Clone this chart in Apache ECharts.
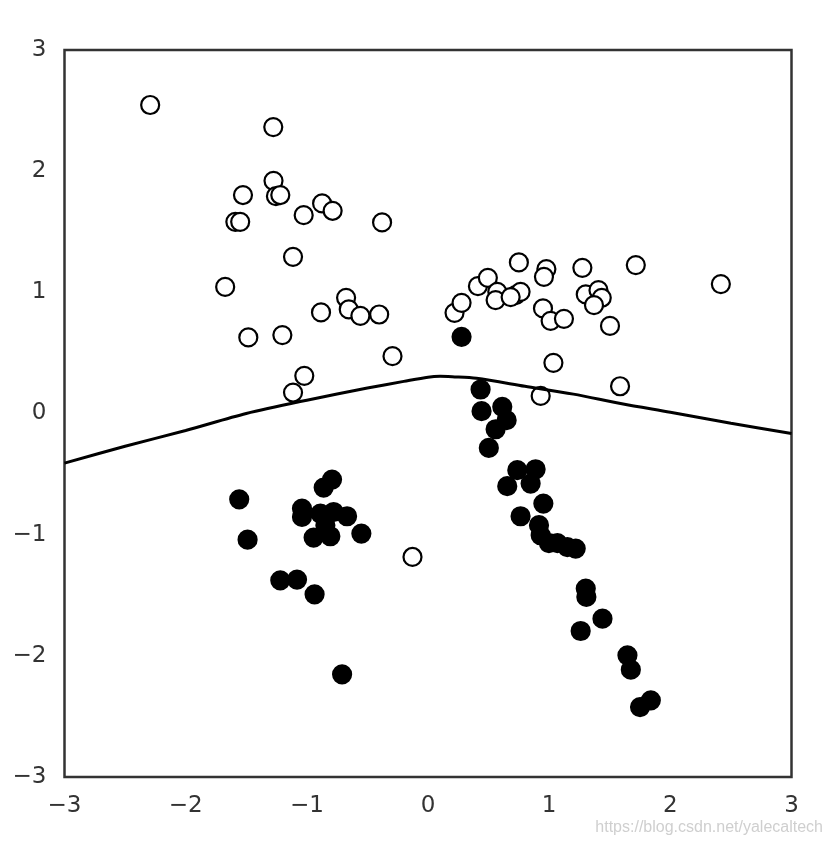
<!DOCTYPE html>
<html>
<head>
<meta charset="utf-8">
<script src="https://cdn.jsdelivr.net/npm/echarts@6/dist/echarts.min.js"></script>
<style>
  html, body { margin: 0; padding: 0; background: #fff; }
  #chart { width: 832px; height: 846px; }
</style>
</head>
<body>
<div id="chart"></div>
<script>
// open circles (class 0)
const whiteX = [-2.293, -1.277, -1.275, -1.255, -1.219, -1.527, -1.590, -1.550, -1.026, -0.874,
  -0.787, -0.379, -1.114, -1.674, -0.676, -0.654, -0.558, -0.403, -0.883, -1.483,
  -1.202, -0.293, -1.021, -1.114, 0.219, 0.277, 0.412, 0.494, 0.572, 0.558,
  0.750, 0.723, 0.764, 0.682, 0.977, 0.957, 1.274, 1.715, 2.417, 0.949,
  1.012, 1.122, 1.302, 1.407, 1.434, 1.370, 1.502, 1.035, 1.585, 0.930, -0.128];
const whiteY = [2.546, 2.364, 1.920, 1.794, 1.803, 1.803, 1.582, 1.582, 1.637, 1.734,
  1.673, 1.577, 1.293, 1.045, 0.955, 0.859, 0.806, 0.817, 0.834, 0.628,
  0.647, 0.473, 0.311, 0.173, 0.831, 0.913, 1.051, 1.120, 1.004, 0.936,
  1.247, 0.977, 1.004, 0.961, 1.192, 1.128, 1.202, 1.225, 1.068, 0.867,
  0.765, 0.781, 0.983, 1.018, 0.955, 0.894, 0.723, 0.418, 0.225, 0.145, -1.184];

// filled dots (class 1)
const blackX = [0.277, 0.434, 0.442, 0.613, 0.649, 0.558, 0.502, 0.737, 0.888, 0.654,
  0.847, 0.952, 0.764, 0.916, 0.930, 0.998, 1.068, 1.150, 1.219, 1.302,
  1.307, 1.440, 1.260, 1.646, 1.674, 1.839, 1.750,
  -1.558, -1.489, -0.792, -0.861, -1.040, -1.040, -0.888, -0.779, -0.668, -0.944,
  -0.806, -0.847, -0.550, -1.219, -1.081, -0.936, -0.709];
const blackY = [0.633, 0.198, 0.019, 0.055, -0.055, -0.130, -0.284, -0.468, -0.460, -0.600,
  -0.578, -0.743, -0.848, -0.922, -1.005, -1.069, -1.069, -1.102, -1.115, -1.445,
  -1.514, -1.693, -1.795, -1.996, -2.114, -2.367, -2.423,
  -0.708, -1.041, -0.545, -0.611, -0.785, -0.854, -0.826, -0.813, -0.848, -1.024,
  -1.013, -0.922, -0.991, -1.377, -1.371, -1.492, -2.153];

// decision boundary
const boundaryX = [-3, -2.5, -2, -1.5, -1, -0.5, -0.2, 0, 0.1, 0.2, 0.4, 0.8, 1.2, 1.6, 2, 2.5, 3];
const boundaryY = [-0.41, -0.27, -0.14, 0.0, 0.11, 0.21, 0.265, 0.30, 0.307, 0.303, 0.29, 0.225, 0.16, 0.08, 0.01, -0.08, -0.165];

const zip = (xs, ys) => xs.map((x, i) => [x, ys[i]]);

const labelStyle = {
  color: '#333',
  fontSize: 23,
  fontFamily: 'DejaVu Sans'
};

const chart = echarts.init(document.getElementById('chart'));
chart.setOption({
  animation: false,
  backgroundColor: '#fff',
  grid: {
    left: 64.5, right: 40.5, top: 50, bottom: 69,
    show: true,
    borderColor: '#333',
    borderWidth: 2.5,
    backgroundColor: '#fff'
  },
  xAxis: {
    type: 'value',
    min: -3, max: 3, interval: 1,
    axisLine: { show: false },
    axisTick: { show: false },
    splitLine: { show: false },
    axisLabel: {
      ...labelStyle,
      margin: 18,
      formatter: v => String(v).replace('-', '\u2212')
    }
  },
  yAxis: {
    type: 'value',
    min: -3, max: 3, interval: 1,
    axisLine: { show: false },
    axisTick: { show: false },
    splitLine: { show: false },
    axisLabel: {
      ...labelStyle,
      margin: 18,
      formatter: v => String(v).replace('-', '\u2212')
    }
  },
  series: [
    {
      type: 'scatter',
      data: zip(whiteX, whiteY),
      symbol: 'circle',
      symbolSize: 18,
      itemStyle: { color: '#fff', borderColor: '#000', borderWidth: 2.2, opacity: 1 }
    },
    {
      type: 'scatter',
      data: zip(blackX, blackY),
      symbol: 'circle',
      symbolSize: 18,
      itemStyle: { color: '#000', borderColor: '#000', borderWidth: 2.2, opacity: 1 }
    },
    {
      type: 'line',
      data: zip(boundaryX, boundaryY),
      smooth: 0.3,
      showSymbol: false,
      lineStyle: { color: '#000', width: 3 },
      z: 3
    }
  ],
  graphic: [{
    type: 'text',
    right: 9,
    bottom: 10,
    style: {
      text: 'https://blog.csdn.net/yalecaltech',
      fill: '#cfcfcf',
      fontSize: 16,
      fontFamily: 'Liberation Sans Narrow, Liberation Sans'
    }
  }]
});
</script>
</body>
</html>
